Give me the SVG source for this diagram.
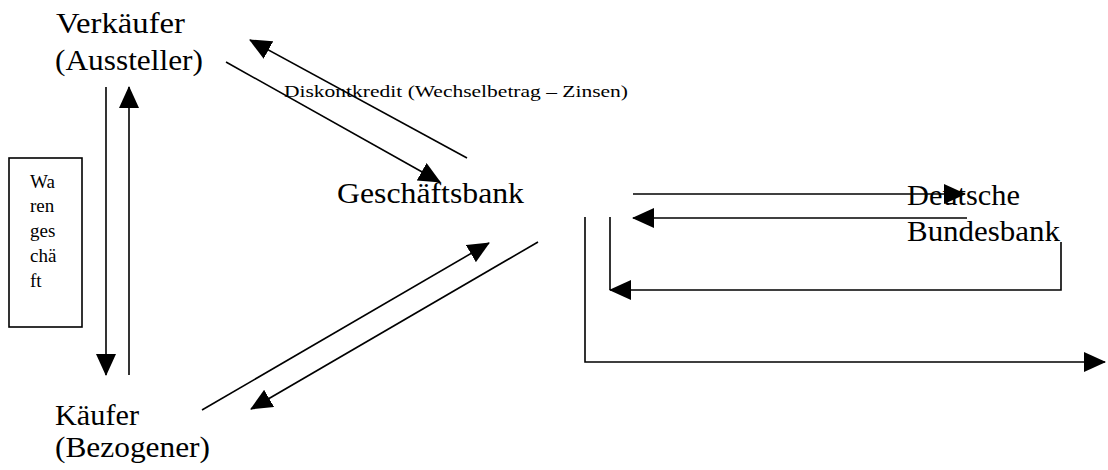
<svg xmlns="http://www.w3.org/2000/svg" width="1108" height="470" viewBox="0 0 1108 470">
<style>
text{font-family:"Liberation Serif","Times New Roman",serif;fill:#000}
.big{font-size:29px}
.small{font-size:19px}
.lbl{font-size:17px}
.ln{fill:none;stroke:#000;stroke-width:1.6}
.arr{marker-end:url(#ah)}
</style>
<defs>
<marker id="ah" viewBox="0 0 22 20" markerWidth="22" markerHeight="20" markerUnits="userSpaceOnUse" refX="21" refY="10" orient="auto">
<path d="M0,0 L22,10 L0,20 Z" fill="#000"/>
</marker>
</defs>
<rect width="1108" height="470" fill="#fff"/>
<g id="verkaeufer">
<text class="big" x="56" y="33" textLength="129" lengthAdjust="spacingAndGlyphs">Verkäufer</text>
<text class="big" x="55" y="70" textLength="148" lengthAdjust="spacingAndGlyphs">(Aussteller)</text>
</g>
<g id="kaeufer">
<text class="big" x="55" y="425" textLength="84" lengthAdjust="spacingAndGlyphs">Käufer</text>
<text class="big" x="55" y="457" textLength="155" lengthAdjust="spacingAndGlyphs">(Bezogener)</text>
</g>
<g id="geschaeftsbank">
<text class="big" x="337" y="203" textLength="187" lengthAdjust="spacingAndGlyphs">Geschäftsbank</text>
</g>
<g id="bundesbank">
<text class="big" x="907" y="205" textLength="113" lengthAdjust="spacingAndGlyphs">Deutsche</text>
<text class="big" x="907" y="241" textLength="153" lengthAdjust="spacingAndGlyphs">Bundesbank</text>
</g>
<g id="warengeschaeft">
<rect x="9" y="158" width="73" height="169" fill="none" stroke="#000" stroke-width="1.6"/>
<text class="small" x="30" y="188">Wa</text>
<text class="small" x="30" y="212">ren</text>
<text class="small" x="30" y="237">ges</text>
<text class="small" x="30" y="262">chä</text>
<text class="small" x="30" y="287">ft</text>
</g>
<g id="label-diskont">
<text class="lbl" x="284" y="97" textLength="344" lengthAdjust="spacingAndGlyphs">Diskontkredit (Wechselbetrag – Zinsen)</text>
</g>
<g id="connectors">
<path class="ln arr" d="M106,87 L106,375"/>
<path class="ln arr" d="M129,375 L129,87"/>
<path class="ln arr" d="M226,62 L440,182"/>
<path class="ln arr" d="M467,158 L250,40"/>
<path class="ln arr" d="M202,410 L489,243"/>
<path class="ln arr" d="M538,242 L251,409"/>
<path class="ln arr" d="M633,194 L965,194"/>
<path class="ln arr" d="M967,218 L633,218"/>
<path class="ln" d="M610,217 L610,290"/>
<path class="ln arr" d="M1061,242 L1061,290 L610,290"/>
<path class="ln arr" d="M585,217 L585,362 L1105,362"/>
</g>
</svg>
